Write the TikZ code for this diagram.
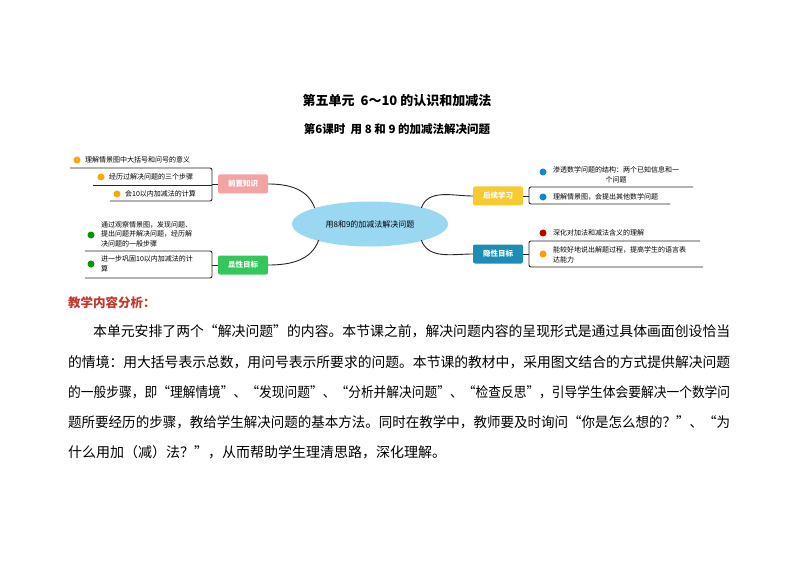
\documentclass[tikz,border=0pt]{standalone}
\usepackage{fontspec}
\usepackage{graphicx}
\setmainfont{Noto Sans CJK SC}
\usetikzlibrary{shapes.geometric}
\definecolor{pinkb}{HTML}{F4A3A3}
\definecolor{greenb}{HTML}{34C759}
\definecolor{yellowb}{HTML}{F7CB2F}
\definecolor{tealb}{HTML}{1A8FB3}
\definecolor{ellc}{HTML}{9AD8F2}
\definecolor{headc}{HTML}{C0392B}
\tikzset{
 topic/.style={rounded corners=2pt,minimum width=50pt,minimum height=19pt,inner sep=1pt,text=white,font=\fontsize{7.5}{9}\selectfont\bfseries},
 item/.style={font=\fontsize{7}{9.5}\selectfont,inner sep=1pt,anchor=west,align=left},
 br/.style={draw=black!85,line width=0.9pt,rounded corners=2pt},
 conn/.style={draw=black!85,line width=0.9pt},
 body/.style={font=\fontsize{14}{16}\selectfont,anchor=west,inner sep=0pt},
 ico/.style={circle,minimum size=7pt,inner sep=0pt}
}
\begin{document}
\begin{tikzpicture}[x=1pt,y=-1pt]
\useasboundingbox (0,0) rectangle (794,561);
\node[font=\fontsize{13}{15}\selectfont\bfseries] (t1) at (397,101) {第五单元\ \ 6～10 的认识和加减法};
\node[font=\fontsize{11.5}{14}\selectfont\bfseries] (t2) at (397,129) {第6课时\ \ 用 8 和 9 的加减法解决问题};
\node[ellipse,fill=ellc,minimum width=156pt,minimum height=45pt,inner sep=0pt,font=\fontsize{8}{10}\selectfont] (c) at (370,224) {用8和9的加减法解决问题};
\node[topic,fill=pinkb] (a) at (243,184) {前置知识};
\node[topic,fill=greenb] (b) at (243,265) {显性目标};
\node[topic,fill=yellowb] (d) at (498,196) {后续学习};
\node[topic,fill=tealb] (e) at (498,254) {隐性目标};
\draw[conn] (a.east) to[out=0,in=110] (c.north west);
\draw[conn] (b.east) to[out=0,in=250] ([xshift=4pt]c.south west);
\draw[conn] (d.west) to[out=180,in=70] ([xshift=-4pt]c.north east);
\draw[conn] (e.west) to[out=180,in=290] ([xshift=-4pt]c.south east);
% left top
\coordinate (a1) at (212,168); \coordinate (a3) at (212,201);
\draw[br] (70,168) -- (a1) -- (a3) -- (110,201);
\draw[conn] (93,185) -- (212,185);
\draw[conn] (212,184) -- (a.west);
\node[ico,fill=orange!70!yellow] (ia1) at (77,160) {}; \node[item] at (84,160) {理解情景图中大括号和问号的意义};
\node[ico,fill=orange!70!yellow] (ia2) at (101,177) {}; \node[item] at (108,177) {经历过解决问题的三个步骤};
\node[ico,fill=orange!70!yellow] (ia3) at (117,194) {}; \node[item] at (124,194) {会10以内加减法的计算};
% left bottom
\draw[br] (85,251) -- (212,251) -- (212,278) -- (85,278);
\draw[conn] (212,265) -- (b.west);
\node[ico,fill=green!60!black] (ib1) at (91,235) {}; \node[item] at (100,234) {通过观察情景图，发现问题、\\提出问题并解决问题，经历解\\决问题的一般步骤};
\node[ico,fill=green!60!black] (ib2) at (91,264) {}; \node[item] at (100,264) {进一步巩固10以内加减法的计\\算};
% right top
\draw[br] (693,187) -- (529,187) -- (529,204) -- (670,204);
\draw[conn] (d.east) -- (529,196);
\node[ico,fill=cyan!70!blue] (id1) at (543,172) {}; \node[item,align=center] at (552,175) {渗透数学问题的结构：两个已知信息和一\\个问题};
\node[ico,fill=cyan!70!blue] (id2) at (543,197) {}; \node[item] at (552,197) {理解情景图，会提出其他数学问题};
% right bottom
\draw[br] (700,241) -- (529,241) -- (529,267) -- (703,267);
\draw[conn] (e.east) -- (529,254);
\node[ico,fill=red!75!black] (ie1) at (543,233) {}; \node[item] at (552,233) {深化对加法和减法含义的理解};
\node[ico,fill=orange!80!yellow] (ie2) at (543,254) {}; \node[item] at (552,255) {能较好地说出解题过程，提高学生的语言表\\达能力};
% text
\node[body,text=headc,font=\fontsize{12.5}{15}\selectfont\bfseries] (h) at (68,303) {教学内容分析：};
\node[body] (l1) at (93,331) {\resizebox{637pt}{\height}{本单元安排了两个“解决问题”的内容。本节课之前，解决问题内容的呈现形式是通过具体画面创设恰当}};
\node[body] (l2) at (68,362) {\resizebox{662pt}{\height}{的情境：用大括号表示总数，用问号表示所要求的问题。本节课的教材中，采用图文结合的方式提供解决问题}};
\node[body] (l3) at (68,392) {\resizebox{662pt}{\height}{的一般步骤，即“理解情境”、“发现问题”、“分析并解决问题”、“检查反思”，引导学生体会要解决一个数学问}};
\node[body] (l4) at (68,422) {\resizebox{662pt}{\height}{题所要经历的步骤，教给学生解决问题的基本方法。同时在教学中，教师要及时询问“你是怎么想的？”、“为}};
\node[body] (l5) at (68,452) {什么用加（减）法？”，从而帮助学生理清思路，深化理解。};
\end{tikzpicture}
\end{document}
